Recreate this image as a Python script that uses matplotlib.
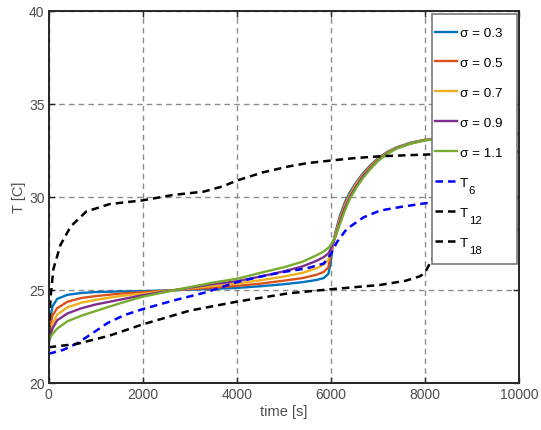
import matplotlib
matplotlib.use("Agg")
import matplotlib.pyplot as plt
import matplotlib.patches as mpatches
import matplotlib.transforms as mtransforms

# ---------------- data ----------------
t_sigma = [0, 30, 80, 180, 400, 700, 1000, 1500, 2000, 2700, 3500, 4000, 4500, 5000,
           5400, 5700, 5850, 5950, 6000, 6050, 6100, 6200, 6300, 6400, 6550, 6700,
           6850, 7000, 7200, 7400, 7700, 8000, 8500, 9000, 10000]

sigma_03 = [22.2, 23.4, 24.1, 24.5, 24.72, 24.82, 24.87, 24.9, 24.92, 24.97, 25.04, 25.09, 25.18, 25.29,
            25.4, 25.52, 25.62, 25.85, 26.5, 27.5, 28.1, 29.0, 29.7, 30.2, 30.8, 31.3,
            31.7, 32.05, 32.4, 32.65, 32.9, 33.05, 33.2, 33.3, 33.4]
sigma_05 = [22.2, 23.0, 23.6, 24.0, 24.35, 24.55, 24.65, 24.78, 24.86, 24.98, 25.1, 25.2, 25.32, 25.48,
            25.62, 25.8, 25.95, 26.2, 26.9, 27.5, 28.0, 28.9, 29.6, 30.1, 30.75, 31.25,
            31.65, 32.0, 32.38, 32.63, 32.88, 33.05, 33.2, 33.3, 33.4]
sigma_07 = [22.2, 22.7, 23.15, 23.65, 24.05, 24.3, 24.45, 24.65, 24.78, 24.98, 25.2, 25.33, 25.5, 25.7,
            25.9, 26.15, 26.35, 26.6, 27.1, 27.5, 27.95, 28.8, 29.5, 30.05, 30.7, 31.2,
            31.6, 31.97, 32.35, 32.62, 32.88, 33.05, 33.2, 33.3, 33.38]
sigma_09 = [22.2, 22.55, 22.9, 23.35, 23.72, 24.0, 24.2, 24.45, 24.7, 24.98, 25.3, 25.45, 25.7, 25.98,
            26.25, 26.55, 26.75, 26.95, 27.2, 27.5, 27.85, 28.7, 29.4, 29.95, 30.6, 31.15,
            31.55, 31.93, 32.32, 32.6, 32.86, 33.03, 33.19, 33.29, 33.37]
sigma_11 = [22.2, 22.4, 22.6, 22.9, 23.3, 23.6, 23.85, 24.25, 24.62, 24.98, 25.38, 25.58, 25.9, 26.2,
            26.5, 26.85, 27.05, 27.25, 27.4, 27.6, 27.85, 28.55, 29.25, 29.85, 30.5, 31.05,
            31.5, 31.9, 32.3, 32.58, 32.85, 33.02, 33.18, 33.28, 33.35]

t_T6 = [0, 300, 600, 900, 1250, 1600, 2000, 2650, 3350, 4000, 4500, 5000, 5500, 5850, 6000,
        6130, 6340, 6700, 7050, 7500, 8000, 9000, 10000]
T6 = [21.55, 21.75, 22.1, 22.6, 23.2, 23.62, 23.95, 24.41, 24.86, 25.4, 25.7, 25.95, 26.15, 26.4, 26.9,
      27.55, 28.26, 28.89, 29.25, 29.45, 29.64, 29.85, 30.02]

t_T12 = [0, 20, 40, 100, 250, 470, 800, 1300, 2000, 2650, 3300, 3700, 4000, 4550, 5100, 5500,
         6000, 6500, 7050, 8000, 9000, 10000]
T12 = [22.0, 23.5, 24.6, 26.1, 27.4, 28.4, 29.2, 29.6, 29.8, 30.09, 30.27, 30.55, 30.86, 31.3, 31.62, 31.8,
       31.94, 32.07, 32.17, 32.26, 32.35, 32.42]

t_T18 = [0, 600, 1300, 2000, 3000, 4000, 5100, 6000, 7050, 7600, 7900, 8000, 8150, 8250, 8450,
         8700, 9000, 9500, 10000]
T18 = [21.9, 22.08, 22.53, 23.13, 23.87, 24.35, 24.8, 25.02, 25.25, 25.48, 25.72, 25.9, 26.6, 27.0, 27.45,
       27.75, 27.95, 28.15, 28.25]

sigma_labels = ["σ = 0.3", "σ = 0.5", "σ = 0.7", "σ = 0.9", "σ = 1.1"]
sigma_colors = ["#0072BD", "#D95319", "#EDB120", "#7E2F8E", "#77AC30"]
T_main = ["T", "T", "T"]
T_sub = ["6", "12", "18"]

xticks = [0, 2000, 4000, 6000, 8000, 10000]
yticks = [20, 25, 30, 35, 40]

# ---------------- plot ----------------
plt.rcParams['font.family'] = ['Liberation Sans', 'DejaVu Sans']

fig = plt.figure(figsize=(5.41, 4.31), dpi=100)
ax = fig.add_axes([0.090, 0.110, 0.869, 0.863])

for ys, c, lab in zip([sigma_03, sigma_05, sigma_07, sigma_09, sigma_11], sigma_colors, sigma_labels):
    ax.plot(t_sigma, ys, color=c, lw=1.7, label=lab)

dash = (3.0, 2.0)
ax.plot(t_T6, T6, color="#0000FF", lw=1.8, ls=(0, dash), label=T_main[0])
ax.plot(t_T12, T12, color="black", lw=1.8, ls=(0, dash), label=T_main[1])
ax.plot(t_T18, T18, color="black", lw=1.8, ls=(0, dash), label=T_main[2])

ax.set_xlim(0, 10000)
ax.set_ylim(20, 40)
ax.set_xticks(xticks)
ax.set_yticks(yticks)
ax.grid(True, color="#8c8c8c", ls=(0, (4, 3)), lw=1.0)

axc = "#262626"
for s in ax.spines.values():
    s.set_color(axc)
    s.set_linewidth(1.4)
ax.tick_params(direction="in", top=True, right=True, length=4, width=1.0, color=axc,
               labelsize=10, labelcolor="#4d4d4d", pad=3)
ax.set_xlabel("time [s]", fontsize=10.5, color="#4d4d4d", labelpad=2)
ax.set_ylabel("T [C]", fontsize=10.5, color="#4d4d4d", labelpad=2)

# legend box (MATLAB style)
box = mpatches.Rectangle((0.8155, 0.319), 0.1809, 0.672, transform=ax.transAxes,
                         facecolor="white", edgecolor="#6e6e6e", lw=1.1, zorder=4.5,
                         clip_on=False)
ax.add_patch(box)

leg_fs = 9.7
leg = ax.legend(loc="upper left", bbox_to_anchor=(0.8219, 0.9565), fontsize=leg_fs,
                frameon=False, labelspacing=1.3, handlelength=1.63, handletextpad=0.22,
                borderaxespad=0.0, borderpad=0.0)
leg.set_zorder(5)

fig.canvas.draw()
renderer = fig.canvas.get_renderer()
for txt, sub in zip(leg.get_texts()[5:], T_sub):
    bb = txt.get_window_extent(renderer)
    yc = 0.5 * (bb.y0 + bb.y1)
    fig.text(bb.x1 + 0.5, yc - 6.7, sub, transform=mtransforms.IdentityTransform(),
             fontsize=8.2, ha="left", va="center", zorder=6)

fig.savefig("out.png", dpi=100)
